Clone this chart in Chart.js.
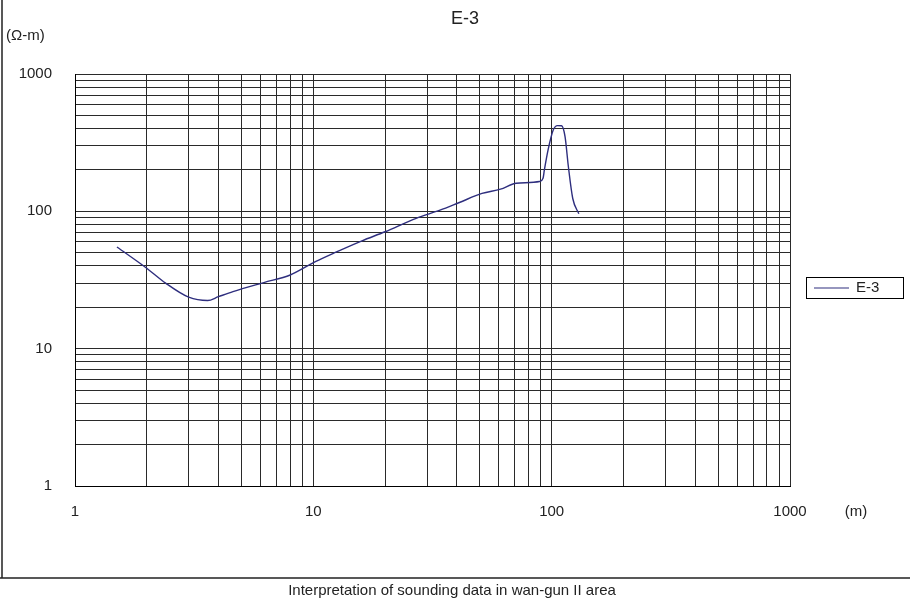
<!DOCTYPE html>
<html>
<head>
<meta charset="utf-8">
<script src="https://cdn.jsdelivr.net/npm/chart.js@4/dist/chart.umd.min.js"></script>
<style>
  html, body { margin: 0; padding: 0; background: #fff; }
  #wrap { width: 910px; height: 603px; position: relative; }
</style>
</head>
<body>
<div id="wrap"><canvas id="sounding-chart"></canvas></div>
<script>
// Sounding curve E-3 (AB/2 spacing in m vs apparent resistivity in ohm-m)
const seriesName = 'E-3';
const spacing = [1.5, 2.0, 2.4, 3.0, 3.6, 4.0, 4.6, 6.2, 8.0, 10.2, 12.3, 16, 20, 27, 34, 41, 51, 61, 71, 89, 92, 93.2, 96.6, 101.6, 105.7, 110, 113.8, 117.5, 122.6, 130];
const resistivity = [55, 38.5, 30, 23.7, 22.4, 23.9, 26, 30.3, 34.4, 43, 50, 61, 71, 89, 102, 116, 135, 145, 160, 165, 174, 200, 280, 392, 421, 420, 350, 212, 124, 96];

// Axis ticks: grid at every 1..9 x 10^n, labels only on decades
const gridValues = [1, 2, 3, 4, 5, 6, 7, 8, 9, 10, 20, 30, 40, 50, 60, 70, 80, 90,
                    100, 200, 300, 400, 500, 600, 700, 800, 900, 1000];
const decadeLabels = ['1', '10', '100', '1000'];

const chartTitle = 'E-3';
const yUnit = '(\u03A9-m)';
const xUnit = '(m)';
const caption = 'Interpretation of sounding data in wan-gun II area';

const lineColor = '#2e2e7e';
const textFont = '"Liberation Sans", Arial, sans-serif';

const points = spacing.map((x, i) => ({ x: x, y: resistivity[i] }));

function setGridTicks(scale) {
    scale.ticks = gridValues.map(v => ({ value: v, major: decadeLabels.includes(String(v)) }));
}

function decadeOnly(value) {
    return decadeLabels.includes(String(value)) ? String(value) : '';
}

// draws the title, units, legend box, caption and the page frame
const decorations = {
    id: 'decorations',
    afterDraw(chart) {
        const ctx = chart.ctx;
        ctx.save();
        ctx.fillStyle = '#222';
        ctx.textBaseline = 'middle';

        ctx.font = '18px ' + textFont;
        ctx.textAlign = 'center';
        ctx.fillText(chartTitle, 465, 19);

        ctx.font = '15px ' + textFont;
        ctx.textAlign = 'left';
        ctx.fillText(yUnit, 6, 36);

        ctx.textAlign = 'center';
        ctx.fillText(xUnit, 856, 512);

        // legend
        ctx.strokeStyle = '#000';
        ctx.lineWidth = 1;
        ctx.strokeRect(806.5, 277.5, 97, 21);
        ctx.strokeStyle = lineColor;
        ctx.lineWidth = 1.2;
        ctx.beginPath();
        ctx.moveTo(814, 288);
        ctx.lineTo(849, 288);
        ctx.stroke();
        ctx.textAlign = 'left';
        ctx.fillText(chart.data.datasets[0].label, 856, 288);

        // frame
        ctx.strokeStyle = '#222';
        ctx.lineWidth = 1.5;
        ctx.beginPath();
        ctx.moveTo(2, 0);
        ctx.lineTo(2, 578);
        ctx.moveTo(0, 578);
        ctx.lineTo(910, 578);
        ctx.stroke();

        ctx.textAlign = 'center';
        ctx.fillText(caption, 452, 591);
        ctx.restore();
    }
};

const ctx = document.getElementById('sounding-chart').getContext('2d');
const chart = new Chart(ctx, {
    type: 'scatter',
    data: {
        datasets: [{
            label: seriesName,
            data: points,
            showLine: true,
            borderColor: lineColor,
            backgroundColor: lineColor,
            borderWidth: 1.4,
            pointRadius: 0,
            cubicInterpolationMode: 'monotone'
        }]
    },
    options: {
        responsive: true,
        maintainAspectRatio: false,
        animation: false,
        layout: {
            padding: { top: 74, left: 0, right: 120, bottom: 0 }
        },
        plugins: {
            legend: { display: false },
            title: { display: false },
            tooltip: { enabled: false }
        },
        scales: {
            x: {
                type: 'logarithmic',
                min: 1,
                max: 1000,
                afterBuildTicks: setGridTicks,
                afterFit: scale => { scale.height = 117; },
                border: { display: true, color: '#000', width: 1 },
                grid: { color: '#2a2a2a', lineWidth: 1, drawTicks: false },
                ticks: {
                    autoSkip: false,
                    maxRotation: 0,
                    padding: 17,
                    color: '#222',
                    font: { family: textFont, size: 15 },
                    callback: decadeOnly
                }
            },
            y: {
                type: 'logarithmic',
                min: 1,
                max: 1000,
                afterBuildTicks: setGridTicks,
                afterFit: scale => { scale.width = 75; },
                border: { display: true, color: '#000', width: 1 },
                grid: { color: '#2a2a2a', lineWidth: 1, drawTicks: false },
                ticks: {
                    autoSkip: false,
                    padding: 23,
                    color: '#222',
                    font: { family: textFont, size: 15 },
                    callback: decadeOnly
                }
            }
        }
    },
    plugins: [decorations]
});
</script>
</body>
</html>
